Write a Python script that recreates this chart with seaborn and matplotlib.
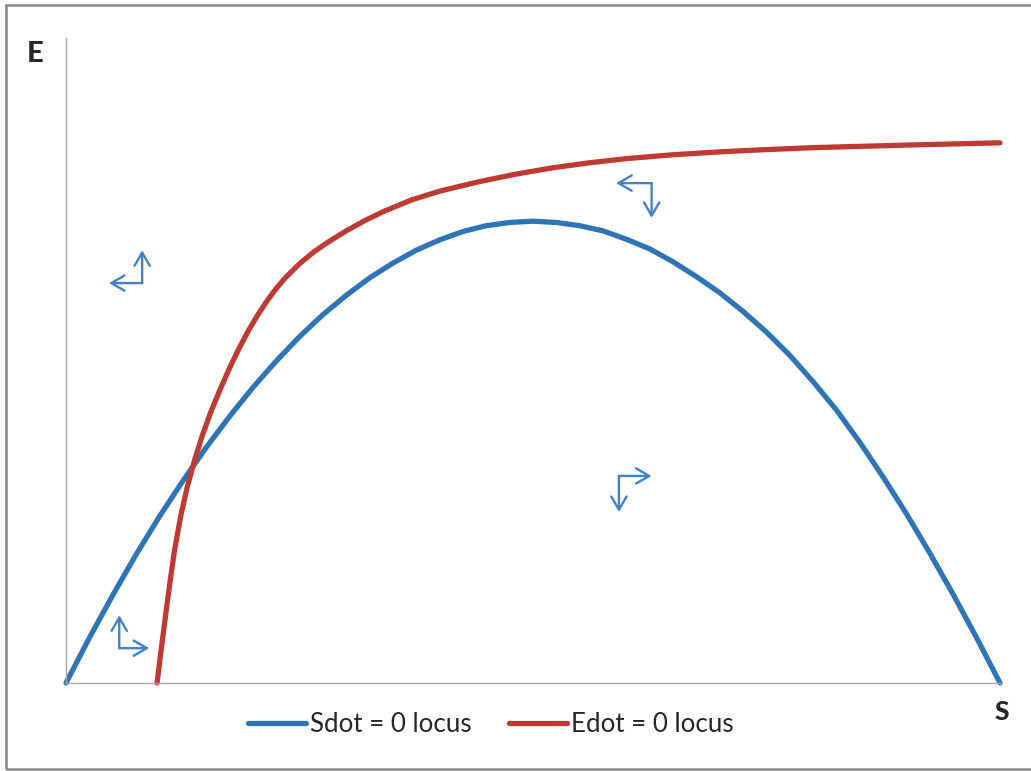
import numpy as np
import pandas as pd
import matplotlib
matplotlib.use('Agg')
import matplotlib.pyplot as plt
import seaborn as sns
from matplotlib.patches import Rectangle

# Sdot = 0 locus (S and E on a 0-100 scale)
s_sdot = [0, 2.5, 5, 7.5, 10, 12.5, 15, 17.5, 20, 22.5, 25, 27.5, 30, 32.5, 35, 37.5,
          40, 42.5, 45, 47.5, 50, 52.5, 55, 57.5, 60, 62.5, 65, 67.5, 70, 72.5, 75,
          77.5, 80, 82.5, 85, 87.5, 90, 92.5, 95, 97.5, 100]
e_sdot = [0, 7.0, 13.6, 19.9, 25.8, 31.3, 36.5, 41.3, 45.8, 49.9, 53.7, 57.1, 60.1,
          62.8, 65.1, 67.1, 68.7, 70.0, 70.9, 71.4, 71.6, 71.4, 70.9, 70.1, 68.8,
          67.3, 65.3, 63.0, 60.5, 57.6, 54.4, 50.8, 46.7, 42.3, 37.3, 31.9, 26.2,
          20.1, 13.7, 7.0, 0]

# Edot = 0 locus
s_edot = [9.75, 10.2, 10.7, 11.15, 11.6, 12.3, 13.0, 13.8, 14.6, 15.5, 16.5, 17.5,
          18.5, 19.5, 20.5, 21.5, 22.5, 23.5, 25, 26.5, 28, 30, 32, 34, 37, 40, 44,
          48, 52, 56, 60, 65, 70, 75, 80, 90, 100]
e_edot = [0, 5.3, 10.9, 15.8, 20.4, 26.0, 30.5, 34.7, 38.4, 42.0, 45.5, 48.8, 51.8,
          54.55, 57.0, 59.2, 61.15, 62.85, 65.0, 66.8, 68.3, 70.1, 71.7, 73.1, 74.9,
          76.25, 77.65, 78.85, 79.85, 80.65, 81.3, 81.9, 82.35, 82.7, 83.0, 83.4, 83.75]

# direction arrows: corner point, then the two arm tips
arrow_corners = [(8.15, 62.0), (62.7, 77.5), (59.2, 32.1), (5.7, 5.4)]
arrow_tips = [[(8.15, 67.1), (4.6, 62.0)],
              [(58.9, 77.5), (62.7, 72.1)],
              [(62.7, 32.1), (59.2, 26.5)],
              [(5.7, 10.5), (8.9, 5.4)]]

labels = ['Sdot = 0 locus', 'Edot = 0 locus']
blue = '#2e75b6'
red = '#be3a32'
arrow_col = '#4281c8'

sns.set_style('white')
plt.rcParams['font.family'] = ['Lato', 'DejaVu Sans']

fig = plt.figure(figsize=(10.31, 7.71), dpi=100)
ax = fig.add_axes([66 / 1031, 88 / 771, 934 / 1031, 645 / 771])

df_s = pd.DataFrame({'S': s_sdot, 'E': e_sdot})
df_e = pd.DataFrame({'S': s_edot, 'E': e_edot})
sns.lineplot(data=df_s, x='S', y='E', color=blue, lw=3.8, ax=ax, label=labels[0],
             sort=False, clip_on=False, solid_capstyle='round', solid_joinstyle='round')
sns.lineplot(data=df_e, x='S', y='E', color=red, lw=3.8, ax=ax, label=labels[1],
             sort=False, clip_on=False, solid_capstyle='round', solid_joinstyle='round')

for c, tips in zip(arrow_corners, arrow_tips):
    for t in tips:
        ax.annotate('', xy=t, xytext=c,
                    arrowprops=dict(arrowstyle='->,head_length=0.95,head_width=0.55',
                                    color=arrow_col, lw=1.7, shrinkA=0, shrinkB=0))

ax.set_xlim(0, 100)
ax.set_ylim(0, 100)
ax.set_xticks([])
ax.set_yticks([])
ax.set_xlabel('')
ax.set_ylabel('')
for side in ['top', 'right']:
    ax.spines[side].set_visible(False)
for side in ['left', 'bottom']:
    ax.spines[side].set_color('#a6a6a6')
    ax.spines[side].set_linewidth(1.0)

fig.text(35 / 1031, 1 - 54 / 771, 'E', fontsize=21, fontweight='black',
         ha='center', va='center')
fig.text(1002 / 1031, 1 - 712 / 771, 'S', fontsize=19, fontweight='black',
         ha='center', va='center')

ax.get_legend().remove()
handles, labs = ax.get_legend_handles_labels()
fig.legend(handles, labs, loc='center', bbox_to_anchor=(491 / 1031, 1 - 725 / 771),
           ncol=2, frameon=False, fontsize=18.6, handlelength=2.25,
           handletextpad=0.15, columnspacing=1.45)

# outer chart frame
fig.patches.append(Rectangle((6 / 1031, 2 / 771), 1.0, 764 / 771,
                             transform=fig.transFigure, fill=False,
                             edgecolor='#868686', lw=1.8))

fig.savefig('out.png', dpi=100)
